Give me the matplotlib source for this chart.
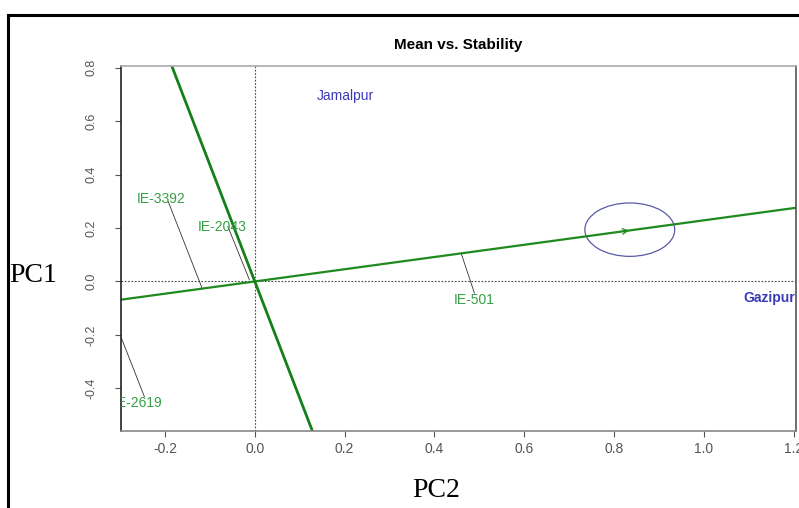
import numpy as np
import matplotlib.pyplot as plt
from matplotlib.patches import Ellipse

# genotype labels (green) and environment labels (blue)
gen_names = ['IE-3392', 'IE-2043', 'IE-501', 'IE-2619']
gen_x = [-0.262, -0.128, 0.442, -0.315]
gen_y = [0.31, 0.205, -0.071, -0.454]

env_names = ['Jamalpur', 'Gazipur']
env_x = [0.201, 1.089]
env_y = [0.696, -0.062]

# leader lines: start point, end point on the ATC axis
lead_x0 = [-0.193, -0.06, 0.46, -0.40]
lead_y0 = [0.30, 0.206, 0.103, 0.23]
lead_x1 = [-0.118, -0.012, 0.489, -0.246]
lead_y1 = [-0.0225, 0.006, -0.0435, -0.431]

# ATC abscissa slope and average environment point
atc_slope = 0.229
avg_env = (0.835, 0.194)
circle_r = 0.1

xlim = (-0.298, 1.205)
ylim = (-0.56, 0.807)

fig = plt.figure(figsize=(7.99, 5.08), dpi=100)
ax = fig.add_axes([0.1514, 0.1516, 0.8448, 0.7185])

green = '#1f8a1f'
blue = '#3a3ab8'

# dotted reference axes
ax.axhline(0, color='#444444', lw=0.8, ls=(0, (1.5, 1.5)))
ax.axvline(0, color='#444444', lw=0.8, ls=(0, (1.5, 1.5)))

xs = np.array([xlim[0] - 0.1, xlim[1] + 0.1])
ax.plot(xs, atc_slope * xs, color=green, lw=1.6)
ax.plot(xs, -xs / atc_slope, color='#15801a', lw=2.0)

# leader lines
for i in range(len(lead_x0)):
    ax.plot([lead_x0[i], lead_x1[i]], [lead_y0[i], lead_y1[i]], color='#333333', lw=0.6)

# average environment circle and arrow
ax.add_patch(Ellipse(avg_env, 2 * circle_r, 2 * circle_r, fill=False, ec='#5a5aa8', lw=0.9))
ax.annotate('', xy=(avg_env[0] + 0.005, atc_slope * (avg_env[0] + 0.005)),
            xytext=(avg_env[0] - 0.02, atc_slope * (avg_env[0] - 0.02)),
            arrowprops=dict(arrowstyle='->', color=green, lw=0.9))

for n, x, y in zip(gen_names, gen_x, gen_y):
    ax.text(x, y, n, color='#35a044', fontsize=10, family='Liberation Sans',
            ha='left', va='center', clip_on=True)

ax.text(env_x[0], env_y[0], env_names[0], color=blue, fontsize=10,
        family='Liberation Sans', ha='center', va='center', clip_on=True)
ax.text(env_x[1], env_y[1], env_names[1], color=blue, fontsize=10, fontweight='bold',
        family='Liberation Sans', ha='left', va='center', clip_on=True)

ax.set_xlim(xlim)
ax.set_ylim(ylim)
ax.set_xticks([-0.2, 0.0, 0.2, 0.4, 0.6, 0.8, 1.0, 1.2])
ax.set_xticklabels(['-0.2', '0.0', '0.2', '0.4', '0.6', '0.8', '1.0', '1.2'])
ax.set_yticks([-0.4, -0.2, 0.0, 0.2, 0.4, 0.6, 0.8])
ax.set_yticklabels(['-0.4', '-0.2', '0.0', '0.2', '0.4', '0.6', '0.8'],
                   rotation=90, va='center')
ax.tick_params(labelsize=9, colors='#555555', length=4, width=0.8)
ax.tick_params(axis='x', labelsize=10, pad=4)
ax.tick_params(axis='y', pad=13)
for lab in ax.get_xticklabels() + ax.get_yticklabels():
    lab.set_family('Liberation Sans')

ax.spines['left'].set_color('#222222')
ax.spines['right'].set_color('#555555')
ax.spines['top'].set_color('#aaaaaa')
ax.spines['bottom'].set_color('#888888')
for s in ax.spines.values():
    s.set_linewidth(1.2)

ax.set_title('Mean vs. Stability', fontsize=11, fontweight='bold',
             family='Liberation Sans', pad=12)

fig.text(0.012, 0.458, 'PC1', fontsize=20, family='Liberation Serif', ha='left', va='center')
fig.text(0.546, 0.035, 'PC2', fontsize=20, family='Liberation Serif', ha='center', va='center')

# outer frame lines
fig.add_artist(plt.Line2D([0.0094, 0.0094], [0.0, 0.970], color='black', lw=2.2,
                          transform=fig.transFigure))
fig.add_artist(plt.Line2D([0.0094, 1.0], [0.970, 0.970], color='black', lw=2.2,
                          transform=fig.transFigure))

fig.savefig('out.png', dpi=100)
